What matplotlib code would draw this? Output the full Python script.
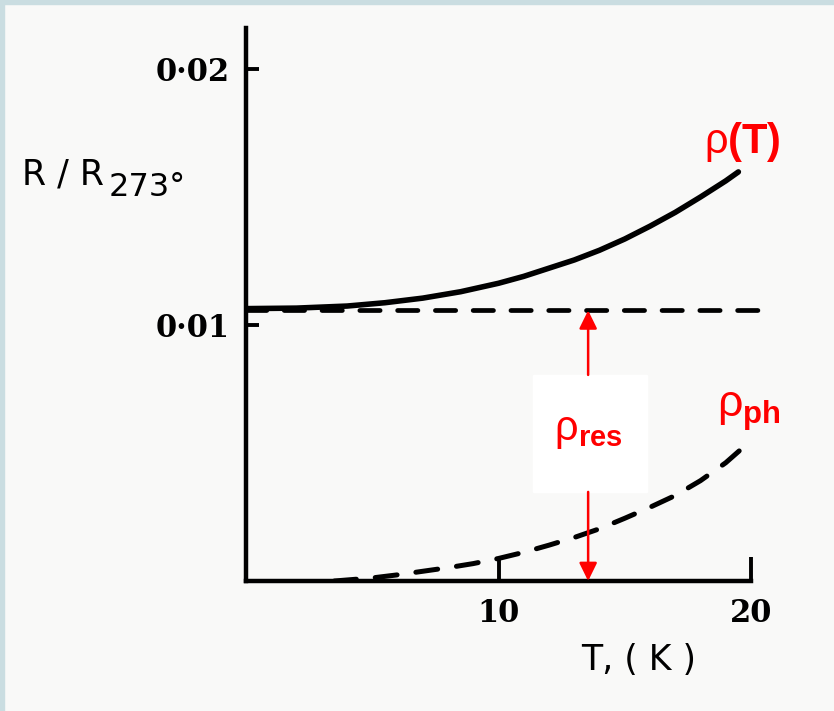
import numpy as np
import matplotlib.pyplot as plt
from matplotlib.patches import Rectangle

plt.rcParams['mathtext.fontset'] = 'custom'
plt.rcParams['mathtext.rm'] = 'Liberation Sans'
plt.rcParams['mathtext.bf'] = 'Liberation Sans:bold'

# total resistivity rho(T)
T_total = [0.0, 2.0, 4.0, 5.5, 7.0, 8.5, 10.0, 11.0, 12.0, 13.0, 14.0, 15.0,
           16.0, 17.0, 18.0, 19.0, 19.5]
rho_total = [0.01064, 0.01066, 0.01074, 0.01087, 0.01105, 0.01130, 0.01163,
             0.01190, 0.01222, 0.01254, 0.01292, 0.01336, 0.01386, 0.01440,
             0.01500, 0.01563, 0.01598]

# phonon part rho_ph
T_ph = [3.5, 5.0, 6.0, 7.0, 8.0, 9.0, 10.0, 11.0, 12.0, 13.0, 14.0, 15.0,
        16.0, 17.0, 18.0, 19.0, 19.9]
rho_ph = [0.0, 0.00012, 0.00024, 0.00038, 0.00052, 0.00068, 0.00088, 0.00112,
          0.00140, 0.00170, 0.00204, 0.00245, 0.00288, 0.00334, 0.00392,
          0.00462, 0.0054]

# residual level (flat dashed line)
T_res = [0.0, 20.55]
rho_res = [0.01057, 0.01057]

x_ticks = [10, 20]
x_ticklabels = ['10', '20']
y_ticks = [0.01, 0.02]
y_ticklabels = ['0·01', '0·02']

arrow_T = 13.55
W, H = 834, 711

fig = plt.figure(figsize=(W / 100, H / 100), dpi=100, facecolor='#f9f9f8')
# scan frame (light blue strip on left and top)
fig.patches.append(Rectangle((0, 0), 4 / W, 1, transform=fig.transFigure, color='#cadde1'))
fig.patches.append(Rectangle((0, 1 - 4 / H), 1, 4 / H, transform=fig.transFigure, color='#cadde1'))

ax = fig.add_axes([246 / W, (H - 581) / H, 530 / W, 553 / H])
ax.patch.set_alpha(0)
ax.set_xlim(0, 530 / 25.25)
ax.set_ylim(0, 553 / 25600)

for s in ['top', 'right']:
    ax.spines[s].set_visible(False)
for s in ['left', 'bottom']:
    ax.spines[s].set_linewidth(3.2)
ax.spines['bottom'].set_bounds(0, 20)

ax.set_xticks(x_ticks)
ax.set_xticklabels(x_ticklabels, fontfamily='DejaVu Serif', fontweight='bold')
ax.set_yticks(y_ticks)
ax.set_yticklabels(y_ticklabels, fontfamily='DejaVu Serif', fontweight='bold')
ax.tick_params(axis='x', direction='in', length=17, width=2.8, pad=12, labelsize=22)
ax.tick_params(axis='y', direction='in', length=9, width=2.8, pad=12, labelsize=22)

# curves
ax.plot(T_total, rho_total, color='black', lw=4.0, solid_capstyle='round', zorder=3)
ax.plot(T_res, rho_res, color='black', lw=3.4, dash_capstyle='round',
        dashes=(4.3, 3.7), zorder=3)
ax.plot(T_ph, rho_ph, color='black', lw=3.6, dash_capstyle='round',
        dashes=(4.4, 3.8), zorder=3)

# white patch behind rho_res label
box_lo, box_hi = 0.00348, 0.00805
ax.add_patch(Rectangle((11.37, box_lo), 4.5, box_hi - box_lo, color='white', zorder=1))

# red arrows
head = '-|>,head_length=0.55,head_width=0.27'
ax.annotate('', xy=(arrow_T, rho_res[0]), xytext=(arrow_T, box_hi),
            arrowprops=dict(arrowstyle=head, color='red', lw=1.8, mutation_scale=20,
                            shrinkA=0, shrinkB=0), zorder=4)
ax.annotate('', xy=(arrow_T, 0), xytext=(arrow_T, box_lo),
            arrowprops=dict(arrowstyle=head, color='red', lw=1.8, mutation_scale=20,
                            shrinkA=0, shrinkB=0), zorder=4)

# red labels
ax.text(19.64, 0.01715, r'$\mathrm{ρ}\mathbf{(T)}$', color='red', fontsize=30,
        ha='center', va='center')
ax.text(19.9, 0.00662, r'$\mathrm{ρ}_{\mathbf{ph}}$', color='red', fontsize=32,
        ha='center', va='center')
ax.text(13.54, 0.0059, r'$\mathrm{ρ}_{\mathbf{res}}$', color='red', fontsize=30,
        ha='center', va='center', zorder=5)

# axis titles
fig.text(22 / W, 1 - 185 / H, 'R / R', fontsize=25, family='DejaVu Sans', va='baseline')
fig.text(109 / W, 1 - 196 / H, '273°', fontsize=23, family='DejaVu Sans', va='baseline')
fig.text(639 / W, 1 - 670 / H, 'T, ( K )', fontsize=25, family='DejaVu Sans',
         ha='center', va='baseline')

fig.savefig('out.png', dpi=100, facecolor=fig.get_facecolor())
